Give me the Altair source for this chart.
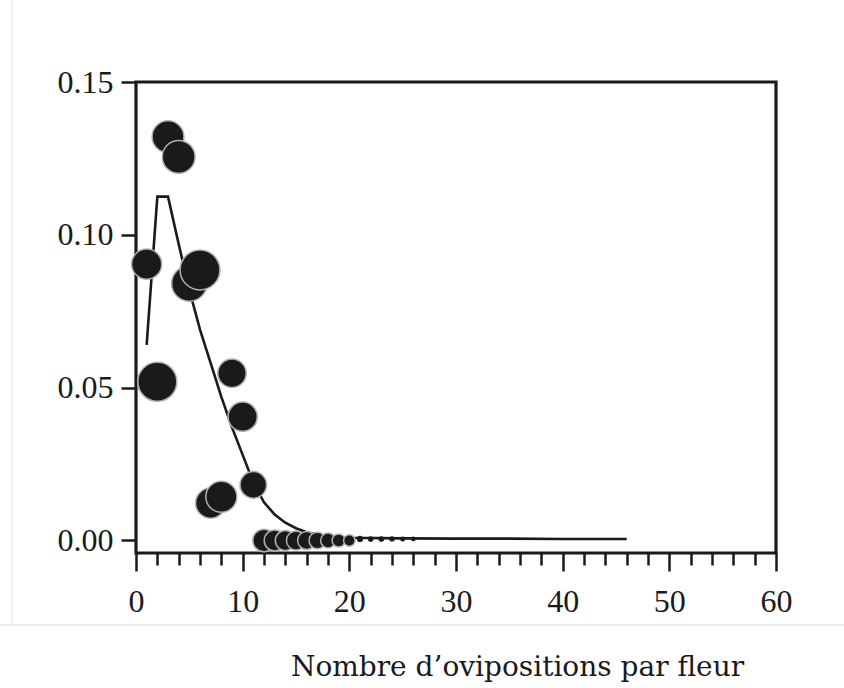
import altair as alt
import pandas as pd

# Observed frequencies (bubble size = sample weight)
obs_x = [1, 2, 3, 4, 5, 6, 7, 8, 9, 10, 11,
         12, 13, 14, 15, 16, 17, 18, 19, 20,
         21, 22, 23, 24, 25, 26]
obs_y = [0.0904, 0.0519, 0.1321, 0.1255, 0.0841, 0.0885, 0.0122, 0.0143, 0.0547, 0.0405, 0.0182,
         0.0, 0.0, 0.0, 0.0, 0.0, 0.0, 0.0, 0.0, 0.0,
         0.0005, 0.0005, 0.0005, 0.0005, 0.0005, 0.0005]
obs_w = [289, 484, 324, 342, 400, 506, 289, 306, 256, 272, 225,
         160, 140, 128, 116, 104, 88, 70, 55, 42,
         12, 10, 10, 9, 8, 7]

# Fitted distribution
fit_x = [1, 2, 3, 4, 5, 6, 7, 8, 9, 10, 11, 12, 13, 14, 15, 16, 17, 18, 19, 20,
         25, 30, 35, 40, 46]
fit_y = [0.064, 0.1125, 0.1125, 0.097, 0.082, 0.069, 0.058, 0.047, 0.037, 0.028, 0.019,
         0.0125, 0.0085, 0.0058, 0.0040, 0.0027, 0.0019, 0.0014, 0.0011, 0.0009,
         0.0007, 0.0006, 0.0006, 0.0005, 0.0005]

major_x = [0, 10, 20, 30, 40, 50, 60]
minor_x = [v for v in range(2, 60, 2) if v % 10 != 0]
y_ticks = [0.0, 0.05, 0.10, 0.15]

obs = pd.DataFrame({"x": obs_x, "y": obs_y, "w": obs_w})
fit = pd.DataFrame({"x": fit_x, "y": fit_y})

FONT = "Liberation Serif"
INK = "#1a1a1a"

xscale = alt.Scale(domain=[0, 60], nice=False, zero=False)
yscale = alt.Scale(domain=[-0.0041, 0.15], nice=False, zero=False)

yaxis = alt.Axis(values=y_ticks, format=".2f", tickSize=15, tickWidth=2.5, tickColor=INK,
                 labelPadding=8, labelFont=FONT, labelFontSize=32, labelColor=INK,
                 domain=False, grid=False, title=None, labelBaseline="middle")

major_axis = alt.Axis(values=major_x, orient="bottom", tickSize=18, tickWidth=2.5, tickColor=INK,
                      labelPadding=15, labelFont=FONT, labelFontSize=32, labelColor=INK,
                      domain=False, grid=False, labelFlush=False,
                      title="Nombre d\u2019ovipositions par fleur",
                      titleFont="DejaVu Serif", titleFontSize=28, titleFontWeight="normal",
                      titleColor=INK, titleX=381, titleY=122, titleAlign="center",
                      titleBaseline="alphabetic")

minor_axis = alt.Axis(values=minor_x, orient="bottom", tickSize=12, tickWidth=2.5, tickColor=INK,
                      labels=False, domain=False, grid=False, title=None)

line = alt.Chart(fit).mark_line(color=INK, strokeWidth=2.6).encode(
    x=alt.X("x:Q", scale=xscale, axis=minor_axis),
    y=alt.Y("y:Q", scale=yscale, axis=yaxis),
)

points = alt.Chart(obs).mark_circle(color=INK, opacity=1, stroke="#b0b0b0").encode(
    x=alt.X("x:Q", scale=xscale, axis=major_axis),
    y=alt.Y("y:Q", scale=yscale, axis=yaxis),
    size=alt.Size("w:Q", scale=alt.Scale(type="linear", domain=[0, 500], range=[0, 1571]), legend=None),
    strokeWidth=alt.condition("datum.w < 30", alt.value(0), alt.value(1.5)),
)

scan_h = alt.Chart(pd.DataFrame({"a": [0]})).mark_rule(color="#e6e6e6", strokeWidth=1.5).encode(
    x=alt.value(-136), x2=alt.value(708), y=alt.value(543)
)
scan_v = alt.Chart(pd.DataFrame({"a": [0]})).mark_rule(color="#ececec", strokeWidth=1.5).encode(
    x=alt.value(-124), y=alt.value(-82), y2=alt.value(543)
)

chart = alt.layer(scan_h, scan_v, line, points).resolve_axis(x="independent").properties(
    width=640, height=471,
    autosize=alt.AutoSizeParams(type="none"),
    padding={"left": 136, "top": 82, "right": 68, "bottom": 135},
    background="white",
).configure_view(stroke=INK, strokeWidth=3.2)

chart.save("out.html", embed_options={"renderer": "svg", "actions": False})
